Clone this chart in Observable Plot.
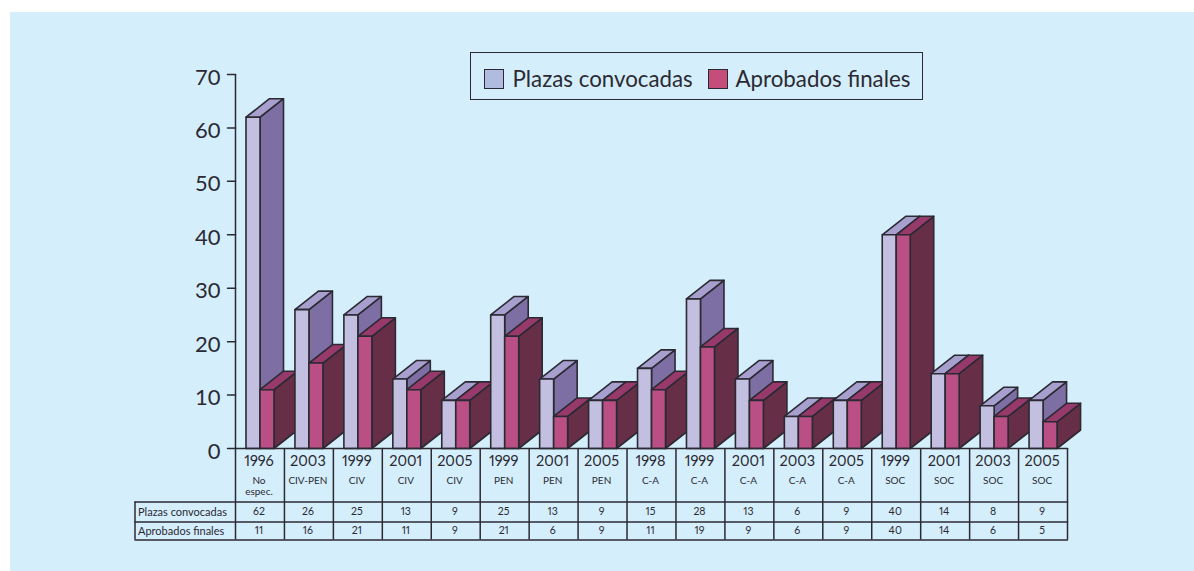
<!DOCTYPE html>
<html><head><meta charset="utf-8">
<script src="https://cdn.jsdelivr.net/npm/d3@7"></script>
<script src="https://cdn.jsdelivr.net/npm/@observablehq/plot@0.6"></script>
<style>
html,body{margin:0;padding:0;background:#fff;overflow:hidden;}
#panel{position:absolute;left:10px;top:12px;right:0;bottom:0;width:1184px;height:559px;background:#d5eefb;}
#chart{position:absolute;left:0;top:0;}
#legend{position:absolute;left:470px;top:52px;width:451px;height:46px;border:1.5px solid #2b2a33;box-sizing:content-box;font-family:Lato,sans-serif;font-size:22.3px;color:#2b2a33;white-space:nowrap;}
#legend span.s{position:absolute;top:16px;width:20px;height:20px;border:1.5px solid #2b2a33;box-sizing:border-box;}
#legend span.t{position:absolute;top:12px;line-height:28px;}
</style></head><body>
<div id="panel"></div><div id="chart"></div>
<div id="legend">
<span class="s" style="left:12.5px;background:#b0bcdf"></span><span class="t" style="left:41.5px">Plazas convocadas</span>
<span class="s" style="left:236.5px;background:#c44d7a"></span><span class="t" style="left:264.5px">Aprobados finales</span>
</div>
<script>
const years = [1996,2003,1999,2001,2005,1999,2001,2005,1998,1999,2001,2003,2005,1999,2001,2003,2005];
const specs = ["No espec.","CIV-PEN","CIV","CIV","CIV","PEN","PEN","PEN","C-A","C-A","C-A","C-A","C-A","SOC","SOC","SOC","SOC"];
const plazas = [62,26,25,13,9,25,13,9,15,28,13,6,9,40,14,8,9];
const aprobados = [11,16,21,11,9,21,6,9,11,19,9,6,9,40,14,6,5];

const left=235,right=1067,top0=74,base=448,H=571,W=1194;
const ux=(right-left)/17, uy=(base-top0)/70;
const px=v=>v/ux, py=v=>v/uy;           // pixel lengths in scale units
const depthX=px(23.5), depthY=py(18.5), barW=px(14), pad=px(10.5);
const rowY=[53.5,73.5,91.5].map(d=>-py(d));   // table row bottoms
const hdrX=-px(100.5);

const purple={front:"#c2bfe0",top:"#a79fce",side:"#7d6fa4"};
const red={front:"#b94f84",top:"#98396c",side:"#662f47"};

const polys=[];
function bar(id,x0,v,c){
  const x1=x0+barW;
  const add=(k,fill,pts)=>{pts.concat([pts[0]]).forEach(p=>polys.push({id:id+k,fill,x:p[0],y:p[1]}));};
  add("s",c.side,[[x1,0],[x1+depthX,depthY],[x1+depthX,v+depthY],[x1,v]]);
  add("t",c.top,[[x0,v],[x0+depthX,v+depthY],[x1+depthX,v+depthY],[x1,v]]);
  add("f",c.front,[[x0,0],[x1,0],[x1,v],[x0,v]]);
}
years.forEach((_,i)=>{
  bar("p"+i,i+pad,plazas[i],purple);
  bar("a"+i,i+pad+barW,aprobados[i],red);
});
const idx=d3.range(17);
const ink="#2b2a33", font="Lato, sans-serif";
const tv=d3.range(0,71,10);
const two=idx.filter(i=>specs[i].includes(" "));
const one=idx.filter(i=>!specs[i].includes(" "));

const plot=Plot.plot({
  width:W,height:H,marginLeft:left,marginRight:W-right,marginTop:top0,marginBottom:H-base,
  style:{background:"transparent",fontFamily:font},
  x:{domain:[0,17],axis:null},
  y:{domain:[0,70],axis:null},
  marks:[
    Plot.line(polys,{x:"x",y:"y",z:"id",fill:"fill",stroke:ink,strokeWidth:1.6,strokeLinejoin:"round",curve:"linear"}),
    Plot.ruleX([0],{y1:0,y2:70,stroke:ink,strokeWidth:1.5}),
    Plot.line(tv.flatMap(d=>[{t:d,x:-px(8)},{t:d,x:0}]),{x:"x",y:"t",z:"t",stroke:ink,strokeWidth:1.5}),
    Plot.text(tv,{x:0,y:d=>d,text:d=>String(d),dx:-15,dy:3,textAnchor:"end",fontSize:22,fill:ink}),
    // table grid
    Plot.line([{x:0,y:0},{x:17,y:0}],{x:"x",y:"y",stroke:ink,strokeWidth:1.5}),
    Plot.line(rowY.flatMap(r=>[{x:hdrX,y:r,r},{x:17,y:r,r}]),{x:"x",y:"y",z:"r",stroke:ink,strokeWidth:1.5}),
    Plot.ruleX(d3.range(18),{y1:0,y2:rowY[2],stroke:ink,strokeWidth:1.5}),
    Plot.ruleX([hdrX],{y1:rowY[0],y2:rowY[2],stroke:ink,strokeWidth:1.5}),
    // table text
    Plot.text(idx,{x:i=>i+0.5,y:0,text:i=>String(years[i]),dx:-1,dy:13,fontSize:14.5,fontVariant:"proportional-nums",fill:ink}),
    Plot.text(one,{x:i=>i+0.5,y:0,text:i=>specs[i],dx:-1,dy:32,fontSize:10,fill:ink}),
    Plot.text(two,{x:i=>i+0.5,y:0,text:i=>specs[i].split(" ")[0],dx:-1,dy:32,fontSize:10,fill:ink}),
    Plot.text(two,{x:i=>i+0.5,y:0,text:i=>specs[i].split(" ")[1],dx:-1,dy:43,fontSize:10,fill:ink}),
    Plot.text(["Plazas convocadas"],{x:hdrX,y:rowY[0],text:d=>d,dx:3,dy:10,textAnchor:"start",fontSize:11,fill:ink}),
    Plot.text(["Aprobados finales"],{x:hdrX,y:rowY[1],text:d=>d,dx:3,dy:9,textAnchor:"start",fontSize:11,fill:ink}),
    Plot.text(idx,{x:i=>i+0.5,y:rowY[0],text:i=>String(plazas[i]),dx:-1,dy:10,fontSize:10.5,fontVariant:"proportional-nums",fill:ink}),
    Plot.text(idx,{x:i=>i+0.5,y:rowY[1],text:i=>String(aprobados[i]),dx:-1,dy:9,fontSize:10.5,fontVariant:"proportional-nums",fill:ink})
  ]
});
document.getElementById("chart").appendChild(plot);
</script>
</body></html>
